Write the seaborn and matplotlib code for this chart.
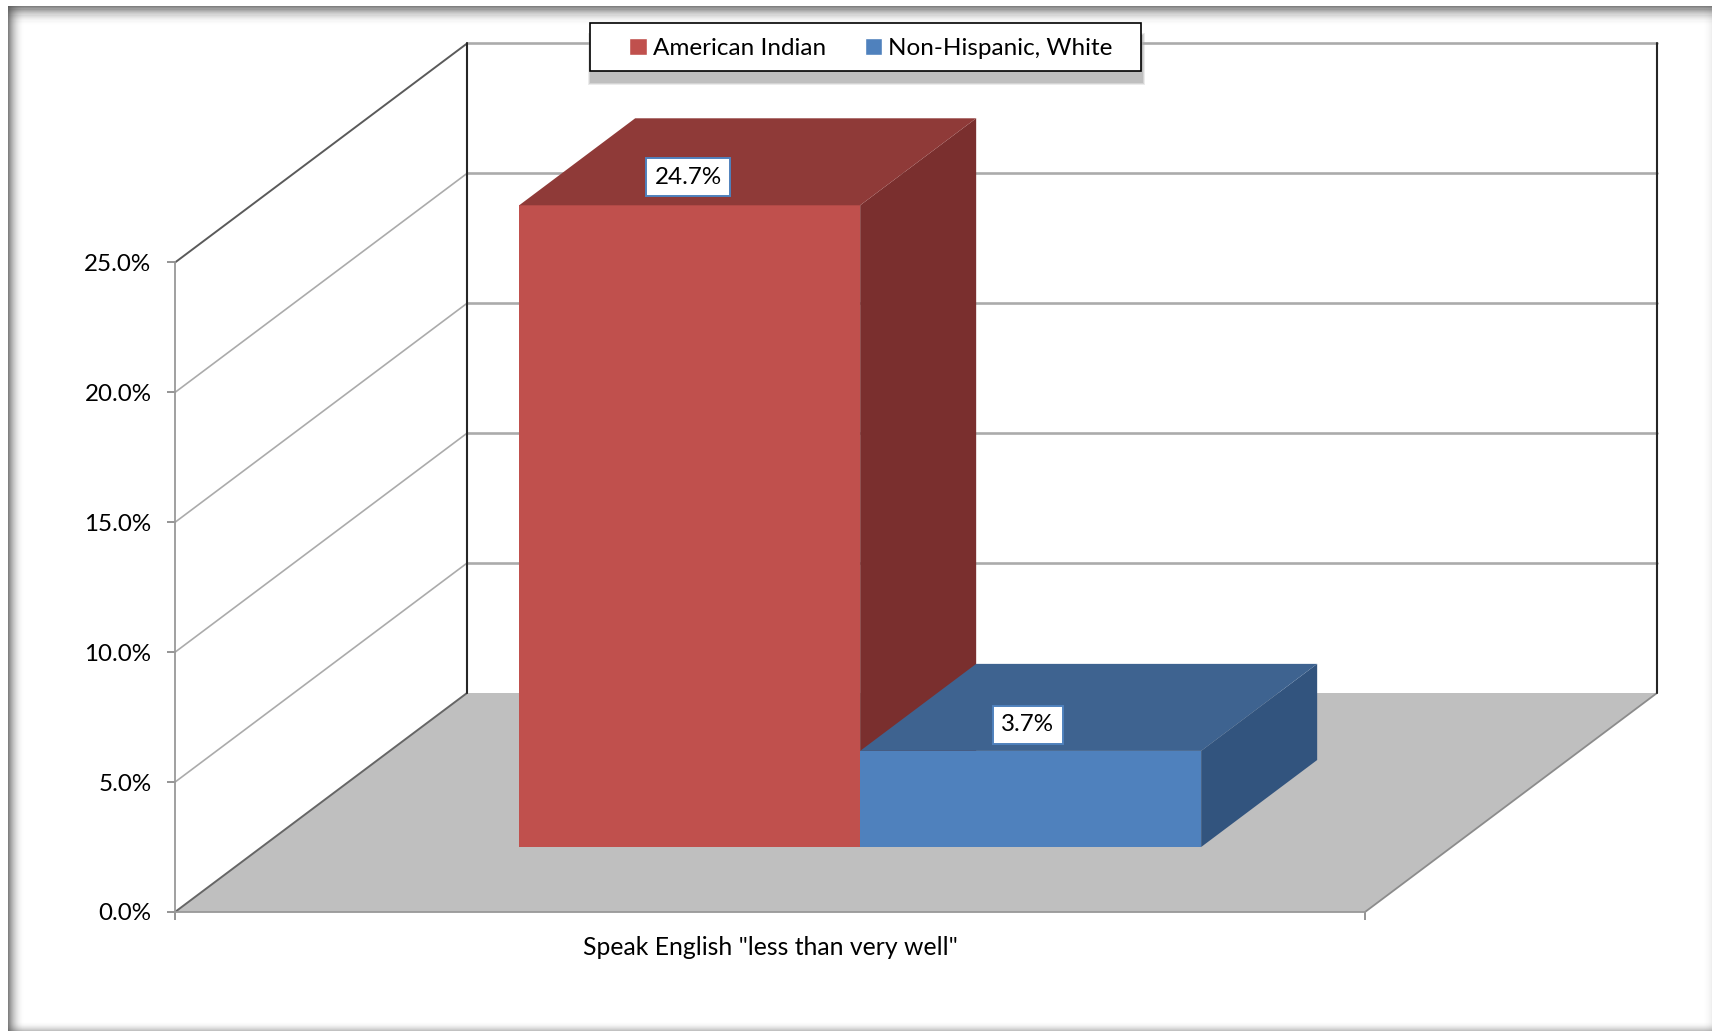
import matplotlib
matplotlib.use("Agg")
import matplotlib.pyplot as plt
import pandas as pd
import seaborn as sns
from matplotlib.patches import Rectangle
from matplotlib.ticker import FuncFormatter
from matplotlib.transforms import IdentityTransform

# ---- data ----
measure = ['Speak English "less than very well"']
groups = ["American Indian", "Non-Hispanic, White"]
values = [24.7, 3.7]
value_labels = ["24.7%", "3.7%"]
y_ticks = [0, 5, 10, 15, 20, 25]

# ---- style ----
W, H = 1712, 1031
L, R, Y0, Y25 = 175, 1365, 912, 262.5      # front plane in pixels
PX_X = 1 / (R - L)                          # data units per pixel
PX_Y = 25 / (Y0 - Y25)
DX, DY = 292 * PX_X, 219 * PX_Y             # full depth of the box
BAR_D0, BAR_D1 = 65 / 219, 152 / 219        # depth of front and back of bars
BAR_NUDGE = 3.5 * PX_X
front = ["#C0504D", "#4F81BD"]
top = ["#8F3A38", "#3E6390"]
side = ["#7A2F2E", "#32547E"]
label_nudge = [-1.5, -3]
label_rise = [28, 26]
FS = 17.4
FS_CAT = 17.8
FS_LEG = 17.5

sns.set_theme(style="white")
plt.rcParams["font.family"] = ["Lato", "DejaVu Sans"]

df = pd.DataFrame({"measure": measure * len(groups), "group": groups, "value": values})

fig = plt.figure(figsize=(W / 100, H / 100), dpi=100, facecolor="white")
ax = fig.add_axes([L / W, (H - Y0) / H, (R - L) / W, (Y0 - Y25) / H])
ax.patch.set_visible(False)

sns.barplot(data=df, x="measure", y="value", hue="group", hue_order=groups,
            palette=front, width=682 / (R - L), saturation=1, ax=ax, errorbar=None)
ax.set_xlim(-0.5, 0.5)
ax.set_ylim(0, 25)
ax.set_xlabel("")
ax.set_ylabel("")
handles, labels = ax.get_legend_handles_labels()
ax.get_legend().remove()


def depth(x, y, d):
    return x + d * DX, y + d * DY


# floor
floor = [depth(-0.5, 0, 0), depth(0.5, 0, 0), depth(0.5, 0, 1), depth(-0.5, 0, 1)]
ax.fill(*zip(*floor), fc="#BFBFBF", ec="none", zorder=1, clip_on=False)
ax.plot(*zip(floor[1], floor[2]), color="#8C8C8C", lw=1.3, zorder=1.2, clip_on=False)
ax.plot(*zip(floor[0], floor[3]), color="#666666", lw=1.4, zorder=1.2, clip_on=False)

# walls and gridlines
for t in y_ticks[1:]:
    back_l, back_r = depth(-0.5, t, 1), depth(0.5, t, 1)
    ax.plot(*zip(back_l, back_r), color="#ABABAB", lw=1.9, zorder=1.1, clip_on=False)
    ax.plot(*zip((-0.5, t), back_l), color="#5A5A5A" if t == 25 else "#ABABAB",
            lw=1.4 if t == 25 else 1.2, zorder=1.1, clip_on=False)
for xb in (-0.5, 0.5):
    ax.plot(*zip(depth(xb, 0, 1), depth(xb, 25, 1)), color="#262626", lw=1.5,
            zorder=1.3, clip_on=False)

# bars: seaborn front faces pushed into the box, then their top and side faces
bars = [b for c in ax.containers for b in c]
for i, b in enumerate(bars):
    x0, w, h = b.get_x(), b.get_width(), b.get_height()
    fx0, fy0 = depth(x0 + BAR_NUDGE, 0, BAR_D0)
    b.set_x(fx0)
    b.set_y(fy0)
    b.set_linewidth(0)
    b.set_zorder(3 + i)
    b.set_clip_on(False)
    bd = BAR_D1 - BAR_D0
    fx1, fy1 = fx0 + w, fy0 + h
    tp = [depth(fx0, fy1, 0), depth(fx1, fy1, 0), depth(fx1, fy1, bd), depth(fx0, fy1, bd)]
    sd = [depth(fx1, fy0, 0), depth(fx1, fy1, 0), depth(fx1, fy1, bd), depth(fx1, fy0, bd)]
    ax.fill(*zip(*sd), fc=side[i], ec="none", zorder=2.9 + i, clip_on=False)
    ax.fill(*zip(*tp), fc=top[i], ec="none", zorder=3 + i, clip_on=False)
    ax.text(fx0 + w / 2 + label_nudge[i] * PX_X, fy1 + label_rise[i] * PX_Y, value_labels[i],
            ha="center", va="center", fontsize=FS, color="black", zorder=10,
            bbox=dict(boxstyle="square,pad=0.35", fc="white", ec=front[1], lw=1.4), clip_on=False)

# axes
for s in ("top", "right"):
    ax.spines[s].set_visible(False)
for s in ("left", "bottom"):
    ax.spines[s].set_color("#999999")
    ax.spines[s].set_linewidth(1.3)
    ax.spines[s].set_zorder(2)
ax.set_yticks(y_ticks)
ax.yaxis.set_major_formatter(FuncFormatter(lambda v, _: f"{v:.1f}%"))
ax.tick_params(axis="y", left=True, length=6, width=1.3, color="#8C8C8C", labelsize=FS,
               labelcolor="black", pad=11)
ax.set_xticks([-0.5, 0.5], minor=True)
ax.tick_params(axis="x", which="major", length=0, labelsize=FS_CAT, labelcolor="black", pad=17)
ax.tick_params(axis="x", which="minor", bottom=True, length=6, width=1.3, color="#8C8C8C")

# legend: entries laid out by matplotlib, framed by a wider box with a soft shadow
leg = ax.legend(handles, labels, ncols=2, loc="center",
                bbox_to_anchor=(871 / W, 1 - 48.5 / H), bbox_transform=fig.transFigure,
                fontsize=FS_LEG, frameon=False, handlelength=0.72, handleheight=0.72,
                handletextpad=0.25, columnspacing=1.6, borderpad=0, labelcolor="black")
leg.set_zorder(20)


def pixel_box(x, y, w, h, **kw):
    return Rectangle((x, H - y - h), w, h, transform=IdentityTransform(), **kw)


BOX = (590, 23, 551, 48)
for g, a in ((2, 0.3), (1, 0.5), (0, 1.0)):
    fig.add_artist(pixel_box(BOX[0] - g, BOX[1] + 12 - g, BOX[2] + 2 + 2 * g, BOX[3] + 2 * g,
                             fc="#BFBFBF", ec="none", alpha=a, zorder=-0.5))
frame_box = pixel_box(*BOX, fc="white", ec="black", lw=1.2, zorder=19)
ax.add_artist(frame_box)
frame_box.set_clip_on(False)


# picture frame shadow
def strip(x, y, w, h, a):
    fig.add_artist(pixel_box(x, y, w, h, fc="#555555", ec="none", alpha=a, zorder=-1))


for k in range(16):
    a = 0.75 * (1 - k / 16) ** 2
    strip(8 + k, 6, 1, H - 6, a)
    strip(8, 6 + k * 1.2, W - 8, 1.2, a)
for k in range(10):
    a = 0.45 * (k / 10) ** 2
    strip(8, 1021 + k, W - 8, 1, a)
    strip(1702 + k, 6, 1, H - 6, a * 0.25)

fig.savefig("out.png", dpi=100, facecolor="white")
